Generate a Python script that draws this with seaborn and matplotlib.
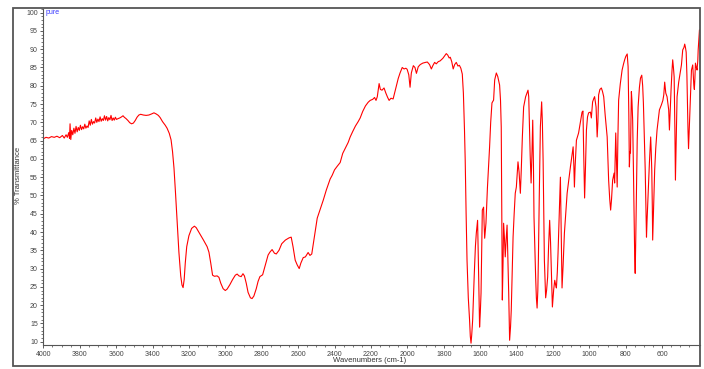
import matplotlib
matplotlib.use("Agg")
import matplotlib.pyplot as plt
from matplotlib.ticker import MultipleLocator, FixedLocator
from matplotlib.patches import Rectangle
import seaborn as sns
import pandas as pd

wavenumber = [
    4000, 3985, 3970, 3955, 3940, 3925, 3910, 3895, 3885, 3875, 3868, 3860, 3856, 3853, 3849, 3844,
    3838, 3832, 3826, 3820, 3814, 3808, 3802, 3796, 3790, 3784, 3778, 3772, 3766, 3760, 3754, 3748,
    3742, 3736, 3730, 3724, 3718, 3712, 3706, 3700, 3694, 3688, 3682, 3676, 3670, 3664, 3658, 3652,
    3646, 3640, 3634, 3628, 3622, 3616, 3610, 3604, 3598, 3590, 3580, 3570, 3562, 3555, 3545, 3535,
    3525, 3515, 3505, 3495, 3485, 3475, 3465, 3450, 3435, 3420, 3405, 3392, 3380, 3368, 3358, 3345,
    3330, 3320, 3308, 3298, 3290, 3282, 3274, 3265, 3255, 3245, 3238, 3232, 3226, 3220, 3212, 3200,
    3185, 3170, 3160, 3140, 3120, 3100, 3090, 3080, 3070, 3060, 3045, 3035, 3025, 3012, 3000, 2990,
    2975, 2960, 2945, 2935, 2925, 2913, 2903, 2895, 2885, 2875, 2862, 2853, 2843, 2830, 2820, 2810,
    2795, 2780, 2765, 2755, 2743, 2730, 2720, 2705, 2690, 2670, 2650, 2638, 2628, 2616, 2605, 2594,
    2585, 2572, 2560, 2545, 2535, 2525, 2510, 2495, 2480, 2462, 2445, 2424, 2413, 2400, 2385, 2369,
    2355, 2340, 2325, 2314, 2300, 2285, 2270, 2259, 2245, 2230, 2215, 2204, 2190, 2180, 2172, 2165,
    2155, 2148, 2139, 2128, 2118, 2108, 2100, 2090, 2078, 2065, 2050, 2040, 2028, 2018, 2008, 2001,
    1992, 1985, 1978, 1967, 1958, 1950, 1940, 1929, 1915, 1900, 1890, 1878, 1868, 1860, 1850, 1841,
    1830, 1820, 1805, 1795, 1786, 1778, 1770, 1764, 1756, 1748, 1740, 1731, 1722, 1714, 1706, 1698,
    1692, 1686, 1682, 1677, 1672, 1665, 1658, 1654, 1650, 1646, 1641, 1636, 1632, 1626, 1621, 1614,
    1611, 1608, 1603, 1599, 1595, 1591, 1588, 1581, 1578, 1575, 1568, 1560, 1548, 1542, 1535, 1526,
    1520, 1511, 1503, 1493, 1488, 1484, 1481, 1478, 1474, 1471, 1466, 1462, 1457, 1452, 1447, 1443,
    1438, 1433, 1429, 1419, 1413, 1407, 1401, 1392, 1386, 1379, 1374, 1368, 1361, 1350, 1337, 1333,
    1330, 1325, 1320, 1315, 1311, 1307, 1304, 1295, 1291, 1287, 1283, 1280, 1275, 1269, 1262, 1258,
    1254, 1250, 1247, 1240, 1235, 1229, 1224, 1218, 1213, 1209, 1203, 1196, 1190, 1185, 1181, 1176,
    1172, 1165, 1159, 1155, 1150, 1144, 1137, 1122, 1104, 1089, 1085, 1082, 1078, 1071, 1059, 1048,
    1040, 1035, 1031, 1026, 1021, 1016, 1010, 1004, 994, 989, 982, 975, 971, 963, 960, 957,
    953, 949, 942, 934, 928, 921, 913, 902, 894, 888, 883, 878, 872, 864, 861, 858,
    855, 851, 847, 843, 839, 830, 820, 812, 806, 800, 792, 787, 783, 780, 777, 774,
    771, 769, 766, 762, 758, 754, 751, 748, 745, 741, 737, 732, 725, 719, 712, 707,
    703, 698, 693, 689, 686, 683, 677, 670, 663, 660, 657, 654, 652, 648, 641, 635,
    628, 621, 615, 604, 596, 591, 586, 580, 573, 568, 564, 560, 556, 551, 546, 542,
    538, 534, 530, 527, 523, 518, 509, 500, 494, 487, 480, 476, 472, 468, 464, 461,
    458, 455, 452, 448, 443, 439, 432, 428, 426, 423, 420, 417, 412, 408, 404, 402,
    398, 395,
]

transmittance = [
    65.5, 65.9, 65.7, 66.1, 65.9, 66.2, 65.8, 66.4, 65.7, 66.6, 65.9, 67.2, 65.6, 69.6, 65.3, 67.8,
    66.6, 68.4, 67.0, 68.9, 67.4, 68.6, 67.8, 69.2, 68.0, 68.8, 68.2, 69.5, 68.4, 69.0, 68.6, 70.4,
    69.2, 70.8, 69.5, 70.2, 69.8, 71.2, 70.0, 70.9, 70.2, 71.5, 70.3, 71.0, 70.5, 71.8, 70.6, 71.6,
    70.4, 71.3, 70.7, 71.9, 70.5, 71.2, 70.6, 71.4, 70.8, 71.0, 71.2, 71.5, 71.8, 71.4, 71.0, 70.5,
    69.9, 69.6, 69.8, 70.5, 71.4, 72.0, 72.2, 72.0, 71.9, 72.0, 72.3, 72.6, 72.3, 71.9, 71.3, 70.2,
    69.2, 68.4, 67.0, 65.2, 62.0, 57.5, 51.0, 43.0, 34.5, 28.0, 25.5, 24.8, 27.0, 31.5, 36.0, 39.0,
    41.0, 41.6, 41.2, 39.5, 37.8, 36.0, 34.5, 31.5, 28.2, 27.9, 28.0, 27.6, 26.0, 24.5, 24.0, 24.4,
    25.6, 27.0, 28.2, 28.5, 28.0, 27.8, 28.6, 28.0, 26.0, 23.5, 22.0, 21.8, 22.5, 24.5, 26.5, 27.8,
    28.3, 31.0, 33.7, 34.5, 35.2, 34.2, 34.0, 35.0, 36.8, 37.8, 38.4, 38.6, 36.0, 32.3, 31.0, 30.0,
    31.5, 33.0, 33.2, 34.4, 33.6, 34.0, 39.0, 43.8, 46.0, 48.7, 51.5, 54.5, 55.5, 57.0, 58.0, 59.0,
    61.5, 63.0, 64.5, 66.0, 67.5, 69.0, 70.2, 71.2, 73.0, 74.5, 75.5, 76.0, 76.3, 76.8, 76.0, 77.0,
    80.6, 79.0, 78.8, 79.4, 78.0, 76.8, 76.0, 76.6, 76.4, 79.0, 82.0, 83.5, 85.0, 84.6, 84.8, 84.5,
    83.0, 79.6, 83.5, 85.5, 85.0, 83.4, 85.2, 85.8, 86.2, 86.4, 86.5, 85.8, 84.6, 85.5, 86.4, 86.0,
    86.6, 86.8, 87.5, 88.2, 88.8, 88.4, 87.6, 87.8, 86.6, 84.6, 85.8, 86.4, 85.4, 85.6, 84.8, 83.2,
    78.0, 68.0, 59.7, 45.0, 32.3, 22.0, 15.9, 11.5, 9.6, 12.0, 16.0, 23.0, 28.7, 36.0, 39.7, 43.2,
    36.0, 27.7, 14.0, 18.0, 23.3, 36.0, 46.0, 46.8, 42.0, 38.3, 42.4, 52.0, 63.3, 70.0, 75.3, 76.1,
    81.6, 83.5, 82.5, 80.2, 76.0, 68.7, 45.0, 21.4, 32.0, 42.4, 38.0, 33.2, 38.0, 41.9, 32.0, 23.3,
    10.4, 14.0, 18.6, 38.6, 45.0, 50.6, 52.3, 59.2, 56.4, 50.6, 56.9, 66.0, 74.2, 77.0, 78.8, 77.0,
    70.6, 61.0, 53.4, 62.0, 70.6, 58.0, 44.1, 27.7, 22.0, 19.2, 24.0, 32.3, 50.0, 68.8, 75.6, 70.0,
    59.7, 45.0, 32.3, 22.0, 24.0, 27.7, 36.0, 43.2, 37.0, 30.3, 19.5, 24.2, 26.8, 25.5, 24.7, 29.0,
    34.2, 45.0, 55.0, 42.0, 24.7, 31.0, 39.7, 50.6, 57.8, 63.3, 58.0, 52.3, 58.0, 65.1, 67.1, 70.5,
    72.8, 73.1, 61.6, 49.3, 58.0, 67.9, 71.5, 72.6, 72.8, 71.2, 75.6, 76.6, 77.0, 74.2, 70.0, 66.0,
    70.0, 77.5, 79.0, 79.4, 78.5, 77.0, 72.0, 66.0, 54.2, 49.0, 46.0, 49.0, 54.2, 56.1, 53.4, 60.0,
    67.1, 60.0, 52.3, 66.0, 76.1, 80.5, 84.3, 86.0, 87.1, 88.0, 88.7, 85.2, 72.0, 57.8, 62.0, 61.6,
    72.0, 78.4, 76.0, 70.6, 58.0, 43.2, 34.0, 28.7, 38.0, 52.3, 65.0, 74.2, 79.5, 82.1, 82.9, 80.0,
    75.3, 66.0, 57.0, 46.0, 38.6, 43.0, 50.6, 58.9, 66.0, 62.0, 57.0, 47.0, 37.8, 45.0, 57.0, 63.0,
    67.9, 71.0, 73.4, 74.8, 76.0, 77.5, 81.0, 78.0, 77.0, 75.0, 73.4, 67.9, 73.0, 78.9, 84.0, 87.1,
    85.0, 82.4, 68.0, 54.2, 65.0, 77.0, 81.0, 83.8, 85.7, 89.8, 90.5, 91.4, 90.5, 89.2, 83.0, 75.3,
    68.0, 62.8, 67.0, 72.6, 79.0, 84.3, 85.7, 82.0, 80.2, 79.0, 82.0, 86.2, 85.0, 84.3, 87.0, 89.8,
    93.0, 95.3,
]

x_ticks = list(range(4000, 599, -200))
x_tick_labels = [str(v) for v in x_ticks]
y_ticks = list(range(10, 101, 5))
y_tick_labels = [str(v) for v in y_ticks]

sns.set_style("white")
plt.rcParams["font.family"] = ["Liberation Sans", "DejaVu Sans"]

df = pd.DataFrame({"wn": wavenumber, "T": transmittance})

fig = plt.figure(figsize=(7.04, 3.69), dpi=100)
ax = fig.add_axes([43.3 / 704, 24 / 369, 656.7 / 704, 336 / 369])

sns.lineplot(data=df, x="wn", y="T", sort=False, estimator=None,
             color="#ff0000", linewidth=0.8, ax=ax)

ax.set_xlim(4000, 392)
ax.set_ylim(9.1, 101)
ax.set_xticks(x_ticks)
ax.set_xticklabels(x_tick_labels)
ax.set_yticks(y_ticks)
ax.set_yticklabels(y_tick_labels)
ax.xaxis.set_minor_locator(MultipleLocator(50))
ax.yaxis.set_minor_locator(MultipleLocator(1))
ax.tick_params(axis="both", which="major", direction="out", length=2.5, width=0.6,
               labelsize=5, colors="#444444", pad=1.5)
ax.tick_params(axis="both", which="minor", direction="out", length=1.2, width=0.5,
               colors="#444444")
ax.tick_params(axis="both", which="both", bottom=True, left=True, top=False, right=False)
ax.set_xlabel("")
ax.set_ylabel("")
for side in ["top", "right"]:
    ax.spines[side].set_visible(False)
for side in ["left", "bottom"]:
    ax.spines[side].set_color("#555555")
    ax.spines[side].set_linewidth(0.8)

fig.text(46 / 704, 1 - 13 / 369, "pure", color="#3333ff", fontsize=5, va="center", ha="left")
fig.text(18 / 704, 1 - 175 / 369, "% Transmittance", rotation=90, fontsize=5.5,
         va="center", ha="center", color="#333333")
fig.text(370 / 704, 1 - 361 / 369, "Wavenumbers (cm-1)", fontsize=5.5,
         va="center", ha="center", color="#333333")

frame = Rectangle((13 / 704, 3 / 369), (700 - 13) / 704, (366 - 8) / 369,
                  transform=fig.transFigure, fill=False, edgecolor="#555555",
                  linewidth=1.3, zorder=10)
fig.patches.append(frame)

fig.savefig("out.png", dpi=100)
